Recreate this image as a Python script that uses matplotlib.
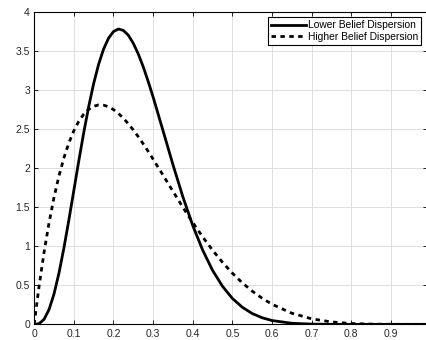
import numpy as np
import matplotlib
matplotlib.use("Agg")
import matplotlib.pyplot as plt

plt.rcParams["font.family"] = ["Liberation Sans", "DejaVu Sans"]

# values
x_vals = [0, 0.0125, 0.025, 0.0375, 0.05, 0.0625, 0.075, 0.0875, 0.1, 0.1125,
          0.125, 0.1375, 0.15, 0.1625, 0.175, 0.1875, 0.2, 0.2125, 0.225, 0.2375,
          0.25, 0.2625, 0.275, 0.2875, 0.3, 0.325, 0.35, 0.375, 0.4, 0.425,
          0.45, 0.475, 0.5, 0.525, 0.55, 0.575, 0.6, 0.65, 0.7, 0.75, 0.8,
          0.85, 0.9, 0.95, 0.99]
lower_disp = [0, 0.009, 0.065, 0.189, 0.388, 0.655, 0.977, 1.336, 1.713, 2.092,
              2.455, 2.789, 3.084, 3.331, 3.526, 3.666, 3.752, 3.785, 3.767, 3.706,
              3.603, 3.467, 3.303, 3.116, 2.915, 2.484, 2.049, 1.637, 1.268, 0.953,
              0.693, 0.489, 0.333, 0.220, 0.139, 0.085, 0.049, 0.014, 0.003,
              0.0005, 0.0001, 0, 0, 0, 0]
higher_disp = [0, 0.493, 0.925, 1.301, 1.625, 1.901, 2.133, 2.325, 2.480, 2.602,
               2.693, 2.756, 2.795, 2.812, 2.809, 2.789, 2.753, 2.703, 2.642, 2.571,
               2.492, 2.406, 2.314, 2.218, 2.118, 1.913, 1.706, 1.502, 1.306, 1.122,
               0.951, 0.796, 0.656, 0.533, 0.426, 0.335, 0.258, 0.143, 0.071,
               0.031, 0.011, 0.003, 0.0004, 0, 0]
labels = ["Lower Belief Dispersion", "Higher Belief Dispersion"]

fig = plt.figure(figsize=(4.27, 3.40), dpi=100)
ax = fig.add_axes([0.08, 0.046, 0.919, 0.918])

ax.plot(x_vals, lower_disp, color="black", lw=2.0, label=labels[0])
ax.plot(x_vals, higher_disp, color="black", lw=2.0, ls=(0, (1.6, 1.6)),
        label=labels[1])

ax.set_xlim(0, 0.99)
ax.set_ylim(0, 4)
ax.set_xticks(np.arange(0, 0.95, 0.1))
ax.set_xticklabels(["0", "0.1", "0.2", "0.3", "0.4", "0.5", "0.6", "0.7", "0.8", "0.9"])
ax.set_yticks(np.arange(0, 4.01, 0.5))
ax.set_yticklabels(["0", "0.5", "1", "1.5", "2", "2.5", "3", "3.5", "4"])
ax.grid(True, color="#d9d9d9", lw=0.6)
ax.set_axisbelow(True)
ax.tick_params(direction="in", top=True, right=True, length=3, width=0.6,
               labelsize=7.5, labelcolor="#262626", pad=3)
for s in ax.spines.values():
    s.set_linewidth(0.8)

leg = ax.legend(loc="upper right", fontsize=7.4, handlelength=3.4, handletextpad=0.2,
                borderpad=0.3, labelspacing=0.15, borderaxespad=0.5,
                fancybox=False, framealpha=1)
leg.get_frame().set_edgecolor("black")
leg.get_frame().set_linewidth(0.8)

fig.savefig("out.png", dpi=100)
